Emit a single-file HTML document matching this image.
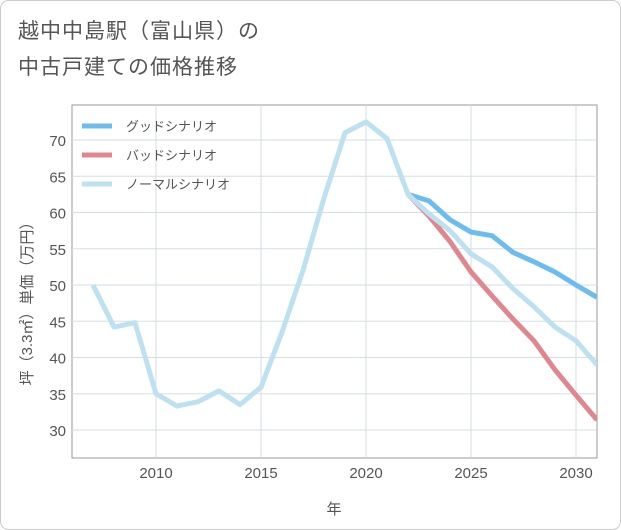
<!DOCTYPE html>
<html><head><meta charset="utf-8"><style>
body{margin:0;background:#fff;}
#wrap{position:relative;width:621px;height:530px;font-family:"Liberation Sans","Noto Sans CJK JP",sans-serif;}
.title{position:absolute;left:18px;top:14px;font-size:21px;color:#555;line-height:36px;letter-spacing:1px}
</style></head><body>
<div id="wrap">
<div class="title">越中中島駅（富山県）の<br>中古戸建ての価格推移</div>
<svg id="chart" width="621" height="530" style="position:absolute;left:0;top:0"></svg>
</div>
<script>
const years=[2007,2008,2009,2010,2011,2012,2013,2014,2015,2016,2017,2018,2019,2020,2021,2022,2023,2024,2025,2026,2027,2028,2029,2030,2031];
const normal=[50,44.2,44.8,35,33.3,33.9,35.4,33.5,35.9,43.5,52,62,71,72.5,70.2,62.5,59.8,57.5,54.3,52.5,49.5,47,44.2,42.3,39];
const goodYears=[2022,2023,2024,2025,2026,2027,2028,2029,2030,2031];
const good=[62.5,61.6,59,57.3,56.8,54.5,53.2,51.8,50,48.3];
const bad=[62.5,59.5,56,51.8,48.5,45.3,42.3,38.3,34.8,31.4];
const xTicks=[2010,2015,2020,2025,2030];
const yTicks=[30,35,40,45,50,55,60,65,70];
const NS='http://www.w3.org/2000/svg';
const svg=document.getElementById('chart');
const L=72,R=597,T=105,B=458;
const x=v=>156+(v-2010)*21;
const y=v=>430-(v-30)*7.25;
function el(t,a,p){const e=document.createElementNS(NS,t);for(const k in a)e.setAttribute(k,a[k]);(p||svg).appendChild(e);return e;}
// outer border
const ob=el('rect',{x:0.5,y:0.5,width:620,height:529,rx:8,fill:'none',stroke:'#ccc'});

const pa=el('rect',{x:L,y:T,width:R-L,height:B-T,fill:'#fff',stroke:'#999'});

xTicks.forEach(v=>{
 const g=el('line',{x1:x(v),x2:x(v),y1:T,y2:B,stroke:'#d5dde5'});
 
 const t=el('text',{x:x(v),y:478,'text-anchor':'middle','font-size':15,fill:'#555'});t.textContent=v;
 
});
yTicks.forEach(v=>{
 const g=el('line',{x1:L,x2:R,y1:y(v),y2:y(v),stroke:'#d5dde5'});
 
 const t=el('text',{x:66,y:y(v)+6,'text-anchor':'end','font-size':15,fill:'#555'});t.textContent=v;
 
});
const xt=el('text',{x:334,y:514,'text-anchor':'middle','font-size':15,fill:'#555'});xt.textContent='年';

const yt=el('text',{x:0,y:0,'text-anchor':'middle','font-size':15,fill:'#555',transform:'translate(32,300) rotate(-90)'});yt.textContent='坪（3.3㎡）単価（万円）';

const clip=el('clipPath',{id:'c'});el('rect',{x:L,y:T,width:R-L,height:B-T},clip);
function line(xs,vs,color,name){
 const p=el('polyline',{points:xs.map((v,i)=>x(v)+','+y(vs[i])).join(' '),fill:'none',stroke:color,'stroke-width':5,'stroke-linejoin':'round','clip-path':'url(#c)'});
 
}
line(goodYears,good,'#6cbcf0','good-scenario-line');
line(goodYears,bad,'#e0868f','bad-scenario-line');
line(years,normal,'#bde1f0','normal-scenario-line');
const leg=[['グッドシナリオ','#6cbcf0'],['バッドシナリオ','#e0868f'],['ノーマルシナリオ','#bde1f0']];
leg.forEach((d,i)=>{
 const yy=126+i*29;
 const s=el('line',{x1:82,x2:112,y1:yy,y2:yy,stroke:d[1],'stroke-width':5});
 
 const t=el('text',{x:126,y:yy+5,'font-size':13,fill:'#555'});t.textContent=d[0];
 
});
</script>
</body></html>
